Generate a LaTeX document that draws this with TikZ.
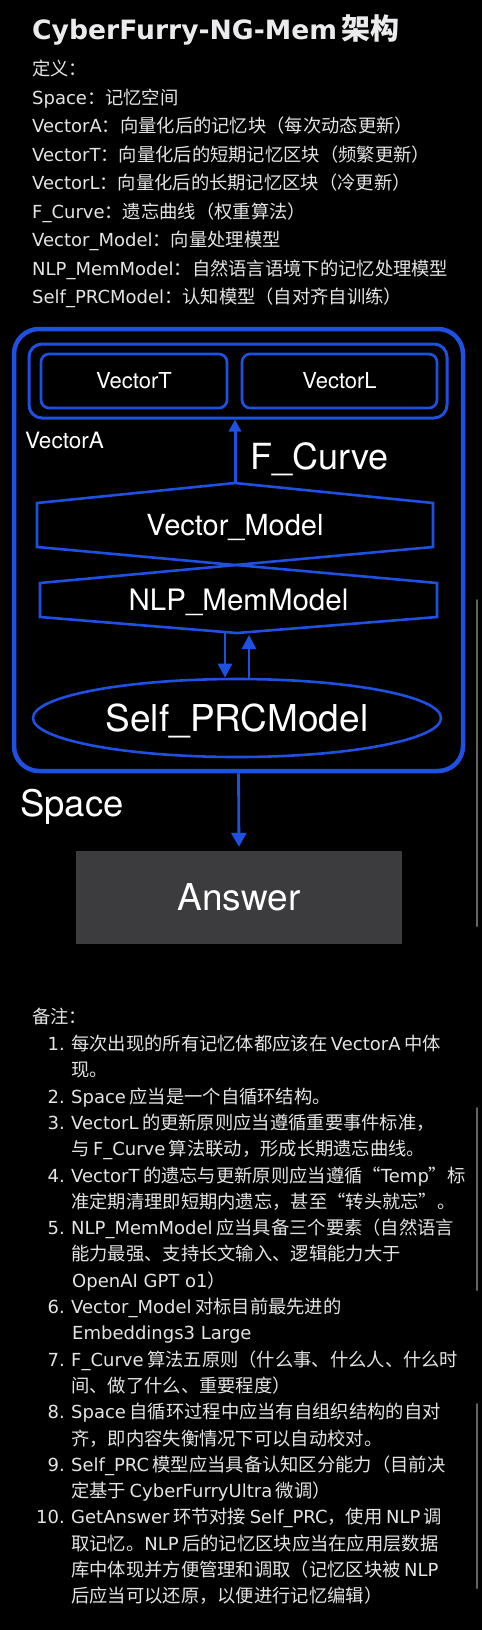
\documentclass[tikz,border=0pt]{standalone}
\usepackage{fontspec}
\setmainfont{Noto Sans CJK SC}
\newfontfamily\latfont{DejaVu Sans}
\newfontfamily\helv{TeX Gyre Heros}
\usetikzlibrary{arrows.meta,shapes.geometric}
\definecolor{sblue}{RGB}{30,80,225}
\definecolor{txtc}{RGB}{228,228,230}
\definecolor{titlec}{RGB}{235,235,237}
\definecolor{ansgray}{RGB}{60,59,62}
\definecolor{sbgray}{RGB}{100,100,104}
\newcommand\LatR[1]{{\latfont\fontsize{18}{22}\selectfont #1}}
\newcommand\GapS{\hspace{3.5pt}}
\newcommand\LatG[1]{\GapS\LatR{#1}\GapS}
\tikzset{
  shp/.style={draw=sblue, line width=2.6pt},
  arr/.style={draw=sblue, line width=3pt, -{Triangle[width=12pt,length=12pt]}},
  arrb/.style={draw=sblue, line width=2.7pt, -{Triangle[width=14pt,length=14pt]}},
  arrc/.style={draw=sblue, line width=2.8pt, -{Triangle[width=15pt,length=14pt]}, shorten >=4pt},
  lbl/.style={text=white, font=\helv\fontsize{#1}{#1}\selectfont, inner sep=0pt},
  deft/.style={anchor=base west, inner sep=0pt, text=txtc, font=\fontsize{18.3}{22}\selectfont},
  numt/.style={anchor=base east, inner sep=0pt, text=txtc, font=\latfont\fontsize{18}{22}\selectfont},
  sbar/.style={line width=2pt, draw=sbgray, line cap=round},
}
\begin{document}
\begin{tikzpicture}[x=1pt,y=-1pt]
\fill[black] (0,0) rectangle (482,1630);
\useasboundingbox (0,0) rectangle (482,1630);

% scroll bars
\draw[sbar] (477,600) -- (477,926);
\draw[sbar] (477,1108) -- (477,1290);
\draw[sbar] (477,1404) -- (477,1588);

% title
\node[anchor=base west, inner sep=0pt, text=titlec, font=\bfseries\fontsize{26.6}{29}\selectfont] (title) at (32,39) {{\latfont CyberFurry-NG-Mem}\hspace{4pt}{\fontsize{29}{29}\selectfont 架构}};

% definitions
\node[deft] (d0) at (32,75.5) {定义：};
\node[deft] (d1) at (32,104) {\LatR{Space}：记忆空间};
\node[deft] (d2) at (32,132.5) {\LatR{VectorA}：向量化后的记忆块（每次动态更新）};
\node[deft] (d3) at (32,161) {\LatR{VectorT}：向量化后的短期记忆区块（频繁更新）};
\node[deft] (d4) at (32,189.5) {\LatR{VectorL}：向量化后的长期记忆区块（冷更新）};
\node[deft] (d5) at (32,218) {\LatR{F\_Curve}：遗忘曲线（权重算法）};
\node[deft] (d6) at (32,246.5) {\LatR{Vector\_Model}：向量处理模型};
\node[deft] (d7) at (32,275) {\LatR{NLP\_MemModel}：自然语言语境下的记忆处理模型};
\node[deft] (d8) at (32,303.5) {\LatR{Self\_PRCModel}：认知模型（自对齐自训练）};

% diagram
\node[draw=sblue, line width=4.5pt, rounded corners=25pt, minimum width=449pt, minimum height=442pt, inner sep=0pt] (sp) at (238.5,550) {};
\node[draw=sblue, line width=3pt, rounded corners=13pt, minimum width=418pt, minimum height=74pt, inner sep=0pt] (va) at (238,381) {};
\node[draw=sblue, line width=2.7pt, rounded corners=8pt, minimum width=186pt, minimum height=54pt, lbl=22, text height=15.8pt, text depth=0pt] (vt) at (134,381) {VectorT};
\node[draw=sblue, line width=2.7pt, rounded corners=8pt, minimum width=195pt, minimum height=54pt, lbl=22, text height=15.8pt, text depth=0pt] (vl) at (339.5,381) {VectorL};
\node[lbl=22.5, anchor=base west] (valbl) at (25,448) {VectorA};
\node[lbl=36, anchor=base west] (fc) at (250,469) {F\_Curve};

\node[lbl=29, minimum width=396pt, minimum height=44pt, text height=20.8pt, text depth=0pt] (vm) at (235,525) {Vector\_Model};
\coordinate (vmtop) at (235,483);
\draw[shp] (vmtop) -- (433,503) -- (433,547) -- (235,565) -- (37,547) -- (37,503) -- cycle;

\node[lbl=29.5, minimum width=397pt, minimum height=34pt, text height=21.2pt, text depth=0pt] (nlp) at (238.5,600) {NLP\_MemModel};
\coordinate (nlpbot) at (237,633);
\draw[shp] (236,565) -- (437,583) -- (437,617) -- (nlpbot) -- (40,617) -- (40,583) -- cycle;

\node[ellipse, draw=sblue, line width=2.6pt, minimum width=408pt, minimum height=78pt, lbl=37, text height=26.6pt, text depth=0pt] (sprc) at (237,718) {Self\_PRCModel};

\node[lbl=36.5, anchor=base west] (splbl) at (20,816) {Space};
\node[fill=ansgray, minimum width=326pt, minimum height=93pt, lbl=37, text height=26.6pt, text depth=0pt] (ans) at (239,897.5) {Answer};

\draw[arr] (vmtop) -- (vmtop |- va.south);
\draw[arrb] ([xshift=-12pt]nlpbot) -- ([xshift=-12pt]sprc.north);
\draw[arrb] ([xshift=12pt]sprc.north) -- ([xshift=12pt,yshift=-2pt]nlpbot);
\draw[arrc] (sp.south) -- (ans.north);

% notes
\node[deft] (n0) at (32,1023.5) {备注：};
\node[numt] (m1) at (65,1050.5) {1.};
\node[deft] (t1a) at (71,1050.5) {每次出现的所有记忆体都应该在\LatG{VectorA}中体};
\node[deft] (t1b) at (71,1076.8) {现。};
\node[numt] (m2) at (65,1103.1) {2.};
\node[deft] (t2a) at (71,1103.1) {\LatR{Space}\GapS 应当是一个自循环结构。};
\node[numt] (m3) at (65,1129.4) {3.};
\node[deft] (t3a) at (71,1129.4) {\LatR{VectorL}\GapS 的更新原则应当遵循重要事件标准，};
\node[deft] (t3b) at (71,1155.7) {与\LatG{F\_Curve}算法联动，形成长期遗忘曲线。};
\node[numt] (m4) at (65,1182.0) {4.};
\node[deft] (t4a) at (71,1182.0) {\LatR{VectorT}\GapS 的遗忘与更新原则应当遵循“\LatR{Temp}”标};
\node[deft] (t4b) at (71,1208.3) {准定期清理即短期内遗忘，甚至“转头就忘”。};
\node[numt] (m5) at (65,1234.6) {5.};
\node[deft] (t5a) at (71,1234.6) {\LatR{NLP\_MemModel}\GapS 应当具备三个要素（自然语言};
\node[deft] (t5b) at (71,1260.9) {能力最强、支持长文输入、逻辑能力大于};
\node[deft] (t5c) at (72,1287.2) {\LatR{OpenAI GPT o1}）};
\node[numt] (m6) at (65,1313.5) {6.};
\node[deft] (t6a) at (71,1313.5) {\LatR{Vector\_Model}\GapS 对标目前最先进的};
\node[deft] (t6b) at (72,1339.8) {\LatR{Embeddings3 Large}};
\node[numt] (m7) at (65,1366.1) {7.};
\node[deft] (t7a) at (71,1366.1) {\LatR{F\_Curve}\GapS 算法五原则（什么事、什么人、什么时};
\node[deft] (t7b) at (71,1392.4) {间、做了什么、重要程度）};
\node[numt] (m8) at (65,1418.7) {8.};
\node[deft] (t8a) at (71,1418.7) {\LatR{Space}\GapS 自循环过程中应当有自组织结构的自对};
\node[deft] (t8b) at (71,1445.0) {齐，即内容失衡情况下可以自动校对。};
\node[numt] (m9) at (65,1471.3) {9.};
\node[deft] (t9a) at (71,1471.3) {\LatR{Self\_PRC}\GapS 模型应当具备认知区分能力（目前决};
\node[deft] (t9b) at (71,1497.6) {定基于\LatG{CyberFurryUltra}微调）};
\node[numt] (m10) at (65,1523.9) {10.};
\node[deft] (t10a) at (71,1523.9) {\LatR{GetAnswer}\GapS 环节对接\GapS\LatR{Self\_PRC}，使用\LatG{NLP}调};
\node[deft] (t10b) at (71,1550.2) {取记忆。\LatR{NLP}\GapS 后的记忆区块应当在应用层数据};
\node[deft] (t10c) at (71,1576.5) {库中体现并方便管理和调取（记忆区块被\LatG{NLP}};
\node[deft] (t10d) at (71,1602.8) {后应当可以还原，以便进行记忆编辑）};
\end{tikzpicture}
\end{document}
